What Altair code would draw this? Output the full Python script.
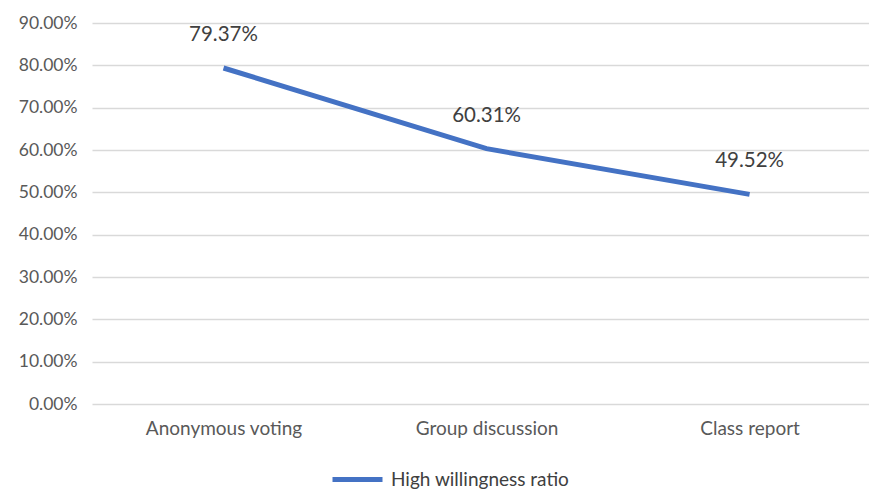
import altair as alt
import pandas as pd

categories = ["Anonymous voting", "Group discussion", "Class report"]
values = [0.7937, 0.6031, 0.4952]
series_name = "High willingness ratio"
y_ticks = [0.0, 0.1, 0.2, 0.3, 0.4, 0.5, 0.6, 0.7, 0.8, 0.9]

df = pd.DataFrame({
    "idx": list(range(len(categories))),
    "category": categories,
    "value": values,
    "series": [series_name] * len(categories),
})

label_expr = " : ".join(
    [f"datum.value == {i} ? '{c}'" for i, c in enumerate(categories)] + ["''"]
)

FONT = "Lato"
x_enc = alt.X("idx:Q",
              scale=alt.Scale(domain=[-0.5, 2.454], nice=False, zero=False),
              axis=alt.Axis(values=[0, 1, 2], labelExpr=label_expr, title=None,
                            grid=False, ticks=False, domain=False,
                            labelFontSize=19, labelColor="#595959", labelFont=FONT,
                            labelPadding=15))
y_enc = alt.Y("value:Q",
              scale=alt.Scale(domain=[0, 0.9], nice=False),
              axis=alt.Axis(values=y_ticks, format=".2%", title=None,
                            grid=True, gridColor="#d9d9d9", gridWidth=1.3,
                            ticks=False, domain=False, labelPadding=15,
                            labelFontSize=17.5, labelColor="#595959", labelFont=FONT))

line = alt.Chart(df).mark_line(strokeWidth=5, clip=False).encode(
    x=x_enc, y=y_enc,
    color=alt.Color("series:N",
                    scale=alt.Scale(range=["#4472C4"]),
                    legend=alt.Legend(title=None, orient="none", legendX=238, legendY=429,
                                      symbolType="stroke", symbolSize=2500,
                                      symbolStrokeWidth=5, labelFontSize=19,
                                      labelColor="#404040", labelFont=FONT,
                                      labelOffset=6, labelLimit=400)),
)

text = alt.Chart(df).mark_text(dy=-33, fontSize=20.5, color="#404040", font=FONT).encode(
    x=alt.X("idx:Q"), y=alt.Y("value:Q"),
    text=alt.Text("value:Q", format=".2%"),
)

chart = alt.layer(line, text).properties(
    width=777, height=381,
    padding={"left": 92, "top": 23, "right": 0, "bottom": 86},
    autosize=alt.AutoSizeParams(type="none"),
    background="white",
).configure_view(stroke=None)

chart.save("out.html", embed_options={"renderer": "svg", "actions": False})
